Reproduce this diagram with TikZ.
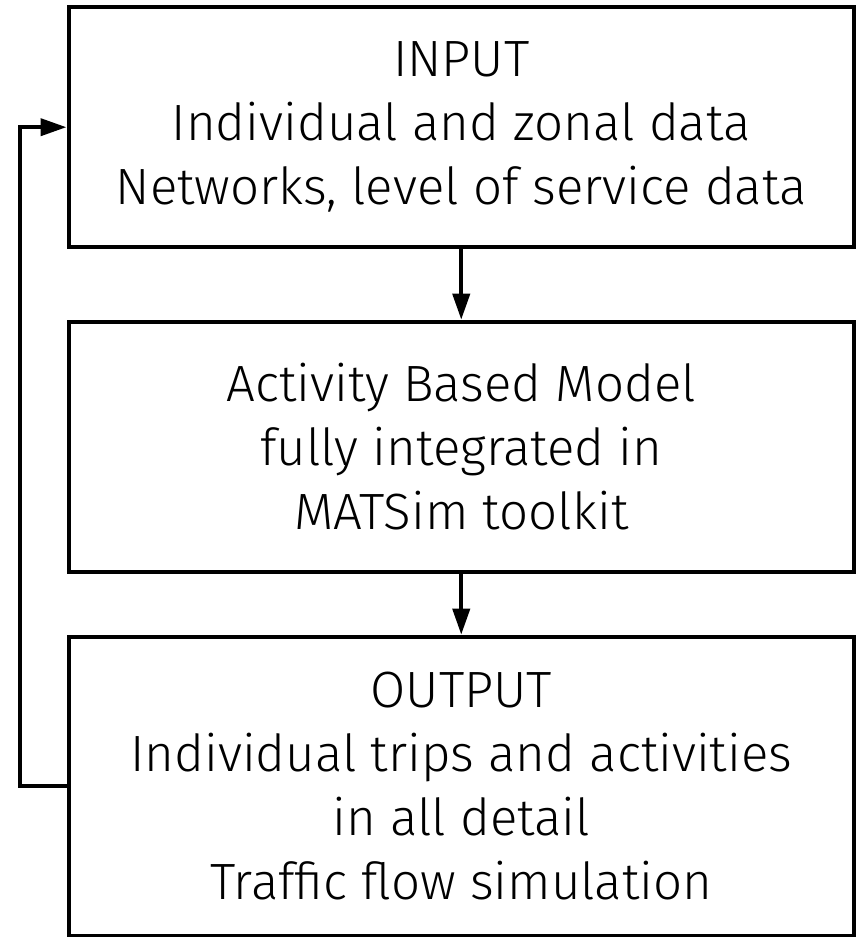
\documentclass[tikz,border=0pt]{standalone}
\usepackage{fontspec}
\setmainfont{Fira Sans Light}
\usetikzlibrary{arrows.meta}
\begin{document}
\begin{tikzpicture}[x=1pt,y=-1pt,
  box/.style={draw,line width=4pt,inner sep=0pt,minimum width=785.5pt,align=center,
    font=\fontsize{51}{64}\selectfont},
  conn/.style={line width=4pt,-{Triangle[length=26pt,width=17pt]}}]
\useasboundingbox (0,0) rectangle (859,937);
\node[box,minimum height=240.3pt] (in) at (461.25,127.2)
  {INPUT\\Individual and zonal data\\Networks, level of service data};
\node[box,minimum height=250pt] (abm) at (461.25,446.7)
  {Activity Based Model\\fully integrated in\\MATSim toolkit};
\node[box,minimum height=299pt] (out) at (461.25,786.2)
  {OUTPUT\\Individual trips and activities\\in all detail\\Traffic flow simulation};
\coordinate (fb) at (20,0);
\draw[conn] (in) -- (abm);
\draw[conn] (abm) -- (out);
\draw[conn,line join=miter] (out.west) -- (fb |- out.west) -- (fb |- in.west) -- (in.west);
\end{tikzpicture}
\end{document}
